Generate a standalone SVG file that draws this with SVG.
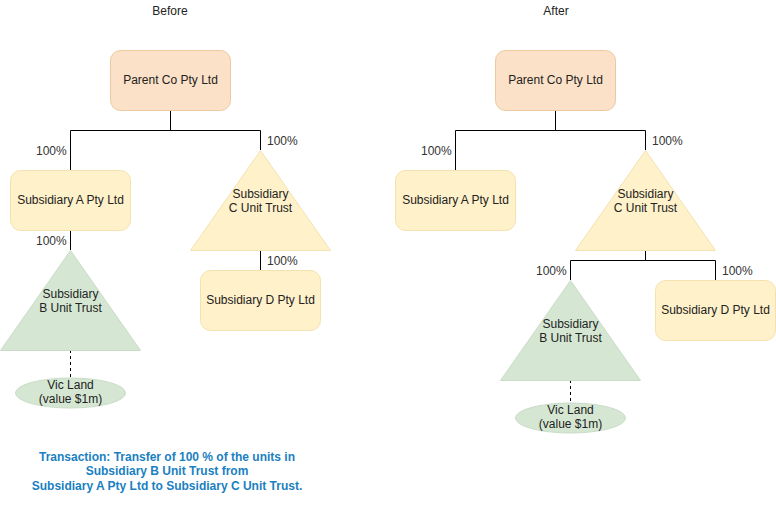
<svg xmlns="http://www.w3.org/2000/svg" width="776" height="508" viewBox="0 0 776 508">
<style>
text{font-family:"Liberation Sans",Arial,sans-serif;font-size:12px;fill:#222;text-anchor:middle}
.pct{text-anchor:start;fill:#333}
.peach{fill:#fbe1c7;stroke:#edc99f;stroke-width:1}
.yel{fill:#fff1c9;stroke:#f3e2b0;stroke-width:1}
.grn{fill:#d5e7d3;stroke:#c8dcc6;stroke-width:1}
.ln{fill:none;stroke:#000;stroke-width:1}
.dash{fill:none;stroke:#000;stroke-width:1;stroke-dasharray:3 3}
.cap{font-weight:bold;font-size:12px;fill:#1a7fc1}
</style>
<rect width="776" height="508" fill="#fff"/>
<text x="170" y="15">Before</text>
<text x="556" y="15">After</text>
<g id="connectors">
<path class="ln" d="M170.5 110V130.5M70.5 170V130.5H260.5V150"/>
<path class="ln" d="M70.5 230V250"/>
<path class="ln" d="M260.5 250V270"/>
<path class="dash" d="M70.5 350V378"/>
<path class="ln" d="M555.5 110V130.5M455.5 170V130.5H645.5V150"/>
<path class="ln" d="M645.5 250V260.5M570.5 280V260.5H715.5V280"/>
<path class="dash" d="M570.5 380V403"/>
</g>
<g id="pcts">
<text class="pct" x="36" y="155">100%</text>
<text class="pct" x="267" y="145">100%</text>
<text class="pct" x="36" y="245">100%</text>
<text class="pct" x="267" y="265">100%</text>
<text class="pct" x="421" y="155">100%</text>
<text class="pct" x="652" y="145">100%</text>
<text class="pct" x="536" y="275">100%</text>
<text class="pct" x="722" y="275">100%</text>
</g>
<g id="b-parent"><rect class="peach" x="110.5" y="50.5" width="120" height="60" rx="10"/><text x="170.5" y="84">Parent Co Pty Ltd</text></g>
<g id="b-subA"><rect class="yel" x="10.5" y="170.5" width="120" height="60" rx="10"/><text x="70.5" y="204">Subsidiary A Pty Ltd</text></g>
<g id="b-subC"><polygon class="yel" points="260.5,150.5 330.5,250.5 190.5,250.5"/><text x="260.5" y="198">Subsidiary</text><text x="260.5" y="212">C Unit Trust</text></g>
<g id="b-subD"><rect class="yel" x="200.5" y="270.5" width="120" height="60" rx="10"/><text x="260.5" y="304">Subsidiary D Pty Ltd</text></g>
<g id="b-subB"><polygon class="grn" points="70.5,250.5 140.5,350.5 0.5,350.5"/><text x="70.5" y="298">Subsidiary</text><text x="70.5" y="312">B Unit Trust</text></g>
<g id="b-land"><ellipse class="grn" cx="70.5" cy="393" rx="55" ry="15"/><text x="70.5" y="389">Vic Land</text><text x="70.5" y="403">(value $1m)</text></g>
<g id="a-parent"><rect class="peach" x="495.5" y="50.5" width="120" height="60" rx="10"/><text x="555.5" y="84">Parent Co Pty Ltd</text></g>
<g id="a-subA"><rect class="yel" x="395.5" y="170.5" width="120" height="60" rx="10"/><text x="455.5" y="204">Subsidiary A Pty Ltd</text></g>
<g id="a-subC"><polygon class="yel" points="645.5,150.5 715.5,250.5 575.5,250.5"/><text x="645.5" y="198">Subsidiary</text><text x="645.5" y="212">C Unit Trust</text></g>
<g id="a-subD"><rect class="yel" x="655.5" y="280.5" width="120" height="60" rx="10"/><text x="715.5" y="314">Subsidiary D Pty Ltd</text></g>
<g id="a-subB"><polygon class="grn" points="570.5,280.5 640.5,380.5 500.5,380.5"/><text x="570.5" y="328">Subsidiary</text><text x="570.5" y="342">B Unit Trust</text></g>
<g id="a-land"><ellipse class="grn" cx="570.5" cy="418" rx="55" ry="15"/><text x="570.5" y="414">Vic Land</text><text x="570.5" y="428">(value $1m)</text></g>
<g id="caption">
<text class="cap" x="167" y="461">Transaction: Transfer of 100 % of the units in</text>
<text class="cap" x="167" y="475">Subsidiary B Unit Trust from</text>
<text class="cap" x="167" y="490">Subsidiary A Pty Ltd to Subsidiary C Unit Trust.</text>
</g>
</svg>
